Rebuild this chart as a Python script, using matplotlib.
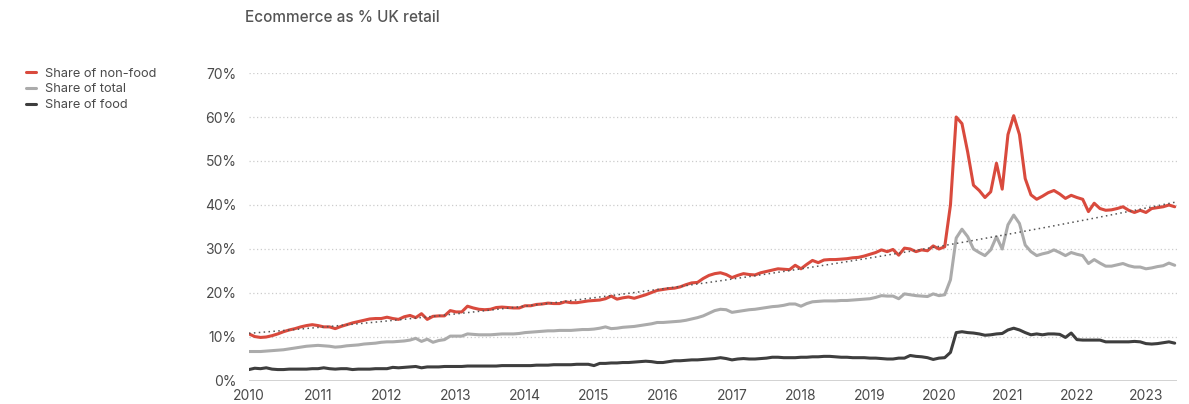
import numpy as np
import matplotlib
matplotlib.use("Agg")
import matplotlib.pyplot as plt

plt.rcParams['font.family'] = ['Inter', 'DejaVu Sans']

title = "Ecommerce as % UK retail"
series_names = ["Share of non-food", "Share of total", "Share of food"]
start_year = 2010  # monthly data, Jan 2010 .. Jun 2023

non_food = [
    10.7, 10.1, 9.9, 10.0, 10.3, 10.7, 11.2, 11.6, 11.9, 12.3, 12.6, 12.8,
    12.6, 12.3, 12.3, 11.9, 12.4, 12.8, 13.2, 13.5, 13.8, 14.1, 14.2, 14.2,
    14.5, 14.2, 14.0, 14.6, 14.9, 14.4, 15.3, 14.0, 14.7, 14.8, 14.8, 16.0,
    15.7, 15.7, 17.0, 16.6, 16.3, 16.2, 16.3, 16.7, 16.8, 16.7, 16.6, 16.6,
    17.1, 17.1, 17.4, 17.5, 17.7, 17.6, 17.6, 18.0, 17.8, 17.8, 18.0, 18.2,
    18.3, 18.4, 18.7, 19.3, 18.6, 18.9, 19.1, 18.8, 19.2, 19.6, 20.1, 20.6,
    20.8, 21.0, 21.1, 21.4, 21.9, 22.3, 22.4, 23.3, 24.0, 24.4, 24.6, 24.2,
    23.5, 24.0, 24.4, 24.2, 24.1, 24.6, 24.9, 25.2, 25.5, 25.4, 25.3, 26.3,
    25.5, 26.5, 27.4, 26.9, 27.5, 27.6, 27.6, 27.7, 27.8, 28.0, 28.1, 28.4,
    28.8, 29.2, 29.8, 29.4, 29.9, 28.6, 30.2, 30.0, 29.4, 29.8, 29.6, 30.7,
    30.0, 30.5, 40.0, 60.0, 58.5, 52.0, 44.5, 43.3, 41.7, 43.0, 49.5, 43.6,
    56.0, 60.3, 56.0, 46.0, 42.3, 41.3, 42.0, 42.8, 43.3, 42.5, 41.5, 42.2,
    41.7, 41.3, 38.5, 40.4, 39.2, 38.8, 38.9, 39.2, 39.6, 38.8, 38.3, 38.8,
    38.3, 39.2, 39.4, 39.6, 40.0, 39.6,
]

total = [
    6.7, 6.7, 6.7, 6.8, 6.9, 7.0, 7.1, 7.3, 7.5, 7.7, 7.9, 8.0,
    8.1, 8.0, 7.9, 7.7, 7.8, 8.0, 8.1, 8.2, 8.4, 8.5, 8.6, 8.8,
    8.9, 8.9, 9.0, 9.1, 9.3, 9.7, 9.0, 9.5, 8.8, 9.2, 9.4, 10.2,
    10.2, 10.2, 10.7, 10.6, 10.5, 10.5, 10.5, 10.6, 10.7, 10.7, 10.7, 10.8,
    11.0, 11.1, 11.2, 11.3, 11.4, 11.4, 11.5, 11.5, 11.5, 11.6, 11.7, 11.7,
    11.8, 12.0, 12.3, 11.9, 12.0, 12.2, 12.3, 12.4, 12.6, 12.8, 13.0, 13.3,
    13.3, 13.4, 13.5, 13.6, 13.8, 14.1, 14.4, 14.8, 15.4, 16.0, 16.3, 16.2,
    15.6, 15.8, 16.0, 16.2, 16.3, 16.5, 16.7, 16.9, 17.0, 17.2, 17.5, 17.5,
    17.0, 17.6, 18.0, 18.1, 18.2, 18.2, 18.2, 18.3, 18.3, 18.4, 18.5, 18.6,
    18.7, 19.0, 19.4, 19.3, 19.3, 18.7, 19.8, 19.6, 19.4, 19.3, 19.2, 19.8,
    19.4, 19.6, 23.0, 32.5, 34.5, 32.8, 30.0, 29.2, 28.5, 29.8, 32.8, 30.0,
    35.5, 37.7, 35.8, 30.9, 29.4, 28.5, 28.9, 29.2, 29.8, 29.2, 28.5, 29.2,
    28.8, 28.5, 26.7, 27.6, 26.8, 26.1, 26.1, 26.4, 26.7, 26.2, 25.9, 25.9,
    25.5, 25.7, 26.0, 26.2, 26.8, 26.3,
]

food = [
    2.6, 2.9, 2.8, 3.0, 2.7, 2.6, 2.6, 2.7, 2.7, 2.7, 2.7, 2.8,
    2.8, 3.0, 2.8, 2.7, 2.8, 2.8, 2.6, 2.7, 2.7, 2.7, 2.8, 2.8,
    2.8, 3.1, 3.0, 3.1, 3.2, 3.3, 3.0, 3.2, 3.2, 3.2, 3.3, 3.3,
    3.3, 3.3, 3.4, 3.4, 3.4, 3.4, 3.4, 3.4, 3.5, 3.5, 3.5, 3.5,
    3.5, 3.5, 3.6, 3.6, 3.6, 3.7, 3.7, 3.7, 3.7, 3.8, 3.8, 3.8,
    3.5, 4.0, 4.0, 4.1, 4.1, 4.2, 4.2, 4.3, 4.4, 4.5, 4.4, 4.2,
    4.2, 4.4, 4.6, 4.6, 4.7, 4.8, 4.8, 4.9, 5.0, 5.1, 5.3, 5.1,
    4.8, 5.0, 5.1, 5.0, 5.0, 5.1, 5.2, 5.4, 5.4, 5.3, 5.3, 5.3,
    5.4, 5.4, 5.5, 5.5, 5.6, 5.6, 5.5, 5.4, 5.4, 5.3, 5.3, 5.3,
    5.2, 5.2, 5.1, 5.0, 5.0, 5.2, 5.2, 5.8, 5.6, 5.5, 5.3, 4.9,
    5.2, 5.3, 6.5, 11.0, 11.2, 11.0, 10.9, 10.7, 10.4, 10.5, 10.7, 10.8,
    11.6, 12.0, 11.6, 11.0, 10.5, 10.7, 10.5, 10.7, 10.7, 10.6, 9.9, 10.9,
    9.4, 9.3, 9.3, 9.3, 9.3, 8.9, 8.9, 8.9, 8.9, 8.9, 9.0, 8.9,
    8.5, 8.4, 8.5, 8.7, 8.9, 8.6,
]

# trend line (dotted), read at a few points
trend_x = [2010.0, 2016.54, 2019.9, 2023.45]
trend_y = [10.8, 22.3, 30.1, 40.8]

year_ticks = list(range(2010, 2024))
y_ticks = [0, 10, 20, 30, 40, 50, 60, 70]

colors = ["#d94a3d", "#ababab", "#3e3e3e"]

n = len(non_food)
x = start_year + np.arange(n) / 12.0

fig = plt.figure(figsize=(11.89, 4.04), dpi=100)
ax = fig.add_axes([249 / 1189, 1 - 381 / 404, (1177 - 249) / 1189, (381 - 73) / 404])

# quadratic trend fitted through the read trend points
coef = np.polyfit(trend_x, trend_y, 2)
tx = np.linspace(trend_x[0], trend_x[-1], 200)
ax.plot(tx, np.polyval(coef, tx), linestyle=(0, (1, 2.2)), color="#555555", lw=1.1, zorder=4)

for vals, name, c in zip([non_food, total, food], series_names, colors):
    ax.plot(x, vals, color=c, lw=2.2, label=name, solid_joinstyle="round", solid_capstyle="round", zorder=3)

ax.set_xlim(2010, 2023.45)
ax.set_ylim(0, 70)
ax.set_xticks(year_ticks)
ax.set_xticklabels([str(y) for y in year_ticks])
ax.set_yticks(y_ticks)
ax.set_yticklabels([f"{v}%" for v in y_ticks])
ax.tick_params(length=0, labelsize=10, colors="#4a4a4a")
ax.tick_params(axis="y", pad=9)
ax.tick_params(axis="x", pad=6)

for v in y_ticks[1:]:
    ax.axhline(v, color="#cccccc", lw=0.9, linestyle=(0, (1, 2)), zorder=1)
ax.axhline(0, color="#cfcfcf", lw=1.3, zorder=1)

for s in ax.spines.values():
    s.set_visible(False)

fig.text(245 / 1189, 1 - 17 / 404, title, fontsize=11, color="#555555",
         fontweight="medium", ha="left", va="center")

handles, labels = ax.get_legend_handles_labels()
fig.legend(handles, labels, loc="upper left", bbox_to_anchor=(14 / 1189, 1 - 56 / 404),
           frameon=False, fontsize=9.2, handlelength=0.85, handletextpad=0.7,
           labelspacing=0.3, labelcolor="#4a4a4a")

fig.savefig("out.png", dpi=100)
